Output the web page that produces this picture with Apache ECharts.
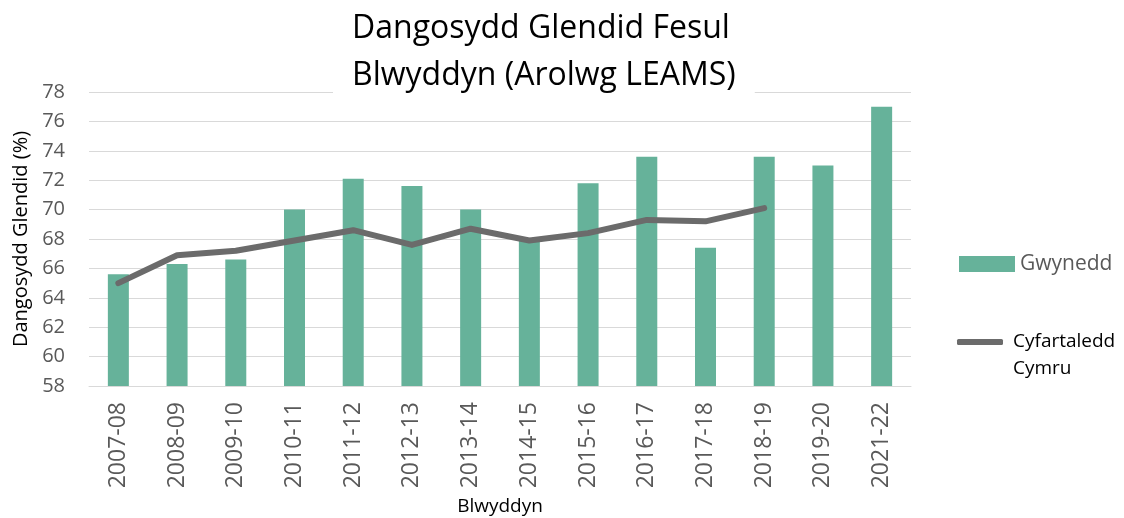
<!DOCTYPE html>
<html>
<head>
<meta charset="utf-8">
<script src="https://cdn.jsdelivr.net/npm/echarts@6/dist/echarts.min.js"></script>
<style>html,body{margin:0;padding:0;background:#fff}#c{width:1124px;height:518px}</style>
</head>
<body>
<div id="c"></div>
<script>
const categories = ['2007-08','2008-09','2009-10','2010-11','2011-12','2012-13','2013-14','2014-15','2015-16','2016-17','2017-18','2018-19','2019-20','2021-22'];
const gwynedd = [65.6, 66.3, 66.6, 70.0, 72.1, 71.6, 70.0, 67.9, 71.8, 73.6, 67.4, 73.6, 73.0, 77.0];
const walesAverage = [65.0, 66.9, 67.2, 67.9, 68.6, 67.6, 68.7, 67.9, 68.4, 69.3, 69.2, 70.1, null, null];
const yTicks = {min: 58, max: 78, interval: 2};

const FONT = 'Open Sans';
const chart = echarts.init(document.getElementById('c'), null, {renderer: 'canvas'});
chart.setOption({
  animation: false,
  backgroundColor: '#fff',
  textStyle: {fontFamily: FONT},
  title: {
    text: 'Dangosydd Glendid Fesul\nBlwyddyn (Arolwg LEAMS)',
    left: 333,
    top: 0,
    padding: [5, 19, 2, 19],
    backgroundColor: '#fff',
    z: 10,
    textStyle: {fontFamily: FONT, fontSize: 32, fontWeight: 'normal', color: '#000', lineHeight: 47}
  },
  legend: [
    {
      data: ['Gwynedd'],
      orient: 'vertical',
      left: 954, top: 248,
      itemWidth: 56, itemHeight: 16,
      icon: 'rect',
      textStyle: {fontFamily: FONT, fontSize: 21, color: '#595959', lineHeight: 22}
    },
    {
      data: ['Cyfartaledd Cymru'],
      orient: 'vertical',
      left: 952, top: 325,
      itemWidth: 46, itemHeight: 6,
      icon: 'roundRect',
      formatter: function () { return 'Cyfartaledd'; },
      textStyle: {fontFamily: FONT, fontSize: 19, color: '#000', lineHeight: 24, padding: [0, 0, 0, 5]}
    }
  ],
  graphic: [
    {
      type: 'text', left: 1013, top: 359,
      style: {text: 'Cymru', fontFamily: FONT, fontSize: 19, fill: '#000'}
    }
  ],
  grid: {left: 89, right: 213, top: 92, bottom: 132, containLabel: false, outerBoundsMode: 'none'},
  xAxis: {
    type: 'category',
    data: categories,
    name: 'Blwyddyn',
    nameLocation: 'middle',
    nameGap: 111,
    nameTextStyle: {fontFamily: FONT, fontSize: 19, color: '#000'},
    axisLine: {show: true, lineStyle: {color: '#d9d9d9', width: 1}},
    axisTick: {show: false},
    axisLabel: {rotate: 90, fontFamily: FONT, fontSize: 23, color: '#595959', margin: 16}
  },
  yAxis: {
    type: 'value',
    min: yTicks.min, max: yTicks.max, interval: yTicks.interval,
    name: 'Dangosydd Glendid (%)',
    nameLocation: 'middle',
    nameGap: 55,
    nameTextStyle: {fontFamily: FONT, fontSize: 20, color: '#000'},
    axisLine: {show: false},
    axisTick: {show: false},
    axisLabel: {fontFamily: FONT, fontSize: 20, color: '#595959', margin: 24},
    splitLine: {lineStyle: {color: '#d9d9d9', width: 1}}
  },
  series: [
    {
      name: 'Gwynedd',
      type: 'bar',
      data: gwynedd,
      barWidth: 21,
      itemStyle: {color: '#66b29a'}
    },
    {
      name: 'Cyfartaledd Cymru',
      type: 'line',
      data: walesAverage,
      symbol: 'none',
      lineStyle: {color: '#6b6b6b', width: 6, cap: 'round', join: 'round'},
      itemStyle: {color: '#6b6b6b'}
    }
  ]
});
</script>
</body>
</html>
